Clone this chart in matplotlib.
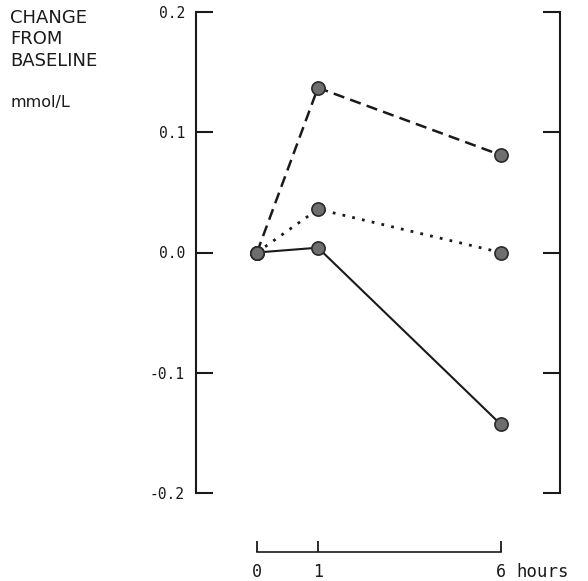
import matplotlib.pyplot as plt
from matplotlib.transforms import blended_transform_factory

# hours after dose and where they sit along the axis
hours = ["0", "1", "6"]
x_pos = [0, 1, 4]

# change from baseline (mmol/L) for each group
dashed_vals = [0.0, 0.137, 0.081]
dotted_vals = [0.0, 0.036, 0.0]
solid_vals = [0.0, 0.004, -0.143]

y_ticks = [0.2, 0.1, 0.0, -0.1, -0.2]
y_labels = ["0.2", "0.1", "0.0", "-0.1", "-0.2"]

W, H = 588, 581
fig = plt.figure(figsize=(W / 100, H / 100), dpi=100)
ax = fig.add_axes([196 / W, 1 - 493 / H, (560 - 196) / W, (493 - 12) / H])

ink = "#1a1a1a"
marker = dict(marker="o", markersize=9.5, markerfacecolor="#6e6e6e",
              markeredgecolor="#2a2a2a", markeredgewidth=1.2)

ax.plot(x_pos, dashed_vals, color=ink, lw=1.8, dashes=(4.5, 2.5), **marker)
ax.plot(x_pos, dotted_vals, color=ink, lw=2.0, dashes=(1.0, 2.6), **marker)
ax.plot(x_pos, solid_vals, color=ink, lw=1.5, **marker)

ax.set_xlim(-1, 4.97)
ax.set_ylim(-0.2, 0.2)

# left and right frame with inward ticks
ax.spines["top"].set_visible(False)
for side in ("left", "right"):
    ax.spines[side].set_linewidth(1.5)
    ax.spines[side].set_color(ink)
ax.set_yticks(y_ticks)
ax.set_yticklabels(y_labels, family="DejaVu Sans Mono", fontsize=10.5, color=ink)
ax.tick_params(axis="y", direction="in", length=12, width=1.5, right=True,
               pad=8, colors=ink)

# detached time axis below the plot (offset in points: 59 px at 100 dpi)
ax.spines["bottom"].set_position(("outward", 59 * 0.72))
ax.spines["bottom"].set_bounds(0, 4)
ax.spines["bottom"].set_linewidth(1.2)
ax.spines["bottom"].set_color(ink)
ax.set_xticks(x_pos)
ax.set_xticklabels(hours, family="DejaVu Sans Mono", fontsize=12, color=ink)
ax.tick_params(axis="x", direction="in", length=8, width=1.3, pad=8, colors=ink)

trans = blended_transform_factory(ax.transData, fig.transFigure)
ax.text(4.25, 1 - 572 / H, "hours", transform=trans, family="DejaVu Sans Mono",
        fontsize=12.5, color=ink, ha="left", va="center")

# axis title in the top-left corner
for i, line in enumerate(["CHANGE", "FROM", "BASELINE"]):
    fig.text(10 / W, 1 - (9 + 21.5 * i) / H, line, fontsize=13, color=ink,
             ha="left", va="top")
fig.text(10 / W, 1 - 95 / H, "mmol/L", fontsize=11.5, color=ink,
         ha="left", va="top")

fig.savefig("out.png", dpi=100)
